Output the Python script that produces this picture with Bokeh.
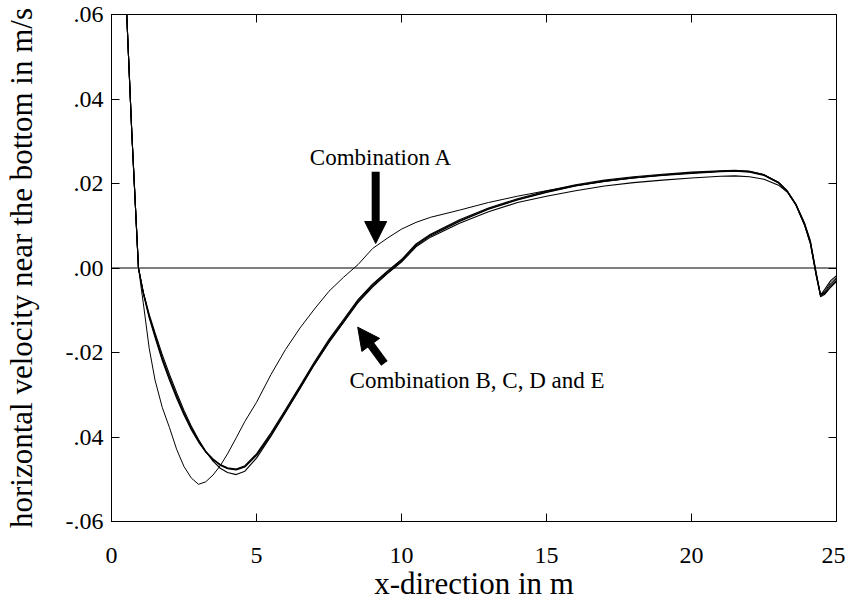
from bokeh.plotting import figure
from bokeh.models import (Range1d, FixedTicker, LinearAxis, Span, Label, Arrow,
                          NormalHead, CustomJSTickFormatter)
from bokeh.embed import file_html
from bokeh.resources import INLINE

# ---------------- data ----------------
x_m = [0.5, 0.7, 0.93, 1.1, 1.3, 1.5, 1.75, 2.0, 2.25, 2.5, 2.75, 3.0, 3.25, 3.5,
       3.75, 4.0, 4.3, 4.6, 5.0, 5.5, 6.0, 6.5, 7.0, 7.5, 8.0, 8.5, 9.0, 9.5,
       10.0, 10.5, 11.0, 12.0, 13.0, 14.0, 15.0, 16.0, 17.0, 18.0, 19.0, 20.0,
       21.0, 21.5, 22.0, 22.5, 23.0, 23.3, 23.6, 23.9, 24.1, 24.3, 24.45, 24.6,
       24.8, 25.0]

comb_A = [0.064, 0.032, 0.0, -0.0085, -0.0190, -0.0265, -0.0330, -0.0378, -0.0430,
          -0.0470, -0.0497, -0.0512, -0.0506, -0.0490, -0.0468, -0.0440, -0.0402,
          -0.0363, -0.0318, -0.0252, -0.0193, -0.0142, -0.0097, -0.0055, -0.0022,
          0.0008, 0.0046, 0.0070, 0.0092, 0.0108, 0.0120, 0.0137, 0.0155, 0.0170,
          0.0183, 0.0195, 0.0205, 0.0213, 0.0220, 0.0225, 0.0229, 0.0230, 0.0229,
          0.0221, 0.0203, 0.0183, 0.0152, 0.0107, 0.0065, -0.0010, -0.0064,
          -0.0055, -0.0035, -0.0022]

comb_B = [0.064, 0.032, 0.0, -0.0060, -0.0115, -0.0160, -0.0215, -0.0262, -0.0305,
          -0.0345, -0.0380, -0.0410, -0.0435, -0.0453, -0.0466, -0.0474, -0.0477,
          -0.0470, -0.0442, -0.0393, -0.0338, -0.0282, -0.0225, -0.0172, -0.0125,
          -0.0077, -0.0040, -0.0010, 0.0018, 0.0055, 0.0078, 0.0112, 0.0140, 0.0162,
          0.0180, 0.0195, 0.0206, 0.0214, 0.0220, 0.0225, 0.0229, 0.0230, 0.0228,
          0.0220, 0.0202, 0.0182, 0.0150, 0.0103, 0.0060, -0.0015, -0.0066,
          -0.0058, -0.0040, -0.0025]

comb_C = [0.064, 0.032, 0.0, -0.0062, -0.0118, -0.0164, -0.0219, -0.0266, -0.0309,
          -0.0348, -0.0383, -0.0412, -0.0436, -0.0454, -0.0467, -0.0475, -0.0478,
          -0.0471, -0.0444, -0.0396, -0.0341, -0.0285, -0.0228, -0.0175, -0.0128,
          -0.0080, -0.0043, -0.0013, 0.0016, 0.0052, 0.0076, 0.0110, 0.0139, 0.0161,
          0.0179, 0.0194, 0.0205, 0.0213, 0.0219, 0.0224, 0.0228, 0.0229, 0.0227,
          0.0219, 0.0201, 0.0181, 0.0149, 0.0101, 0.0057, -0.0017, -0.0064,
          -0.0050, -0.0030, -0.0018]

comb_D = [0.064, 0.032, 0.0, -0.0059, -0.0113, -0.0158, -0.0212, -0.0259, -0.0302,
          -0.0342, -0.0378, -0.0408, -0.0434, -0.0452, -0.0465, -0.0473, -0.0476,
          -0.0468, -0.0440, -0.0390, -0.0335, -0.0279, -0.0222, -0.0169, -0.0122,
          -0.0075, -0.0038, -0.0008, 0.0020, 0.0057, 0.0080, 0.0114, 0.0142, 0.0164,
          0.0182, 0.0197, 0.0208, 0.0216, 0.0222, 0.0227, 0.0230, 0.0231, 0.0229,
          0.0221, 0.0203, 0.0183, 0.0151, 0.0104, 0.0062, -0.0013, -0.0063,
          -0.0060, -0.0045, -0.0032]

comb_E = [0.064, 0.032, 0.0, -0.0058, -0.0110, -0.0153, -0.0205, -0.0252, -0.0296,
          -0.0337, -0.0374, -0.0406, -0.0434, -0.0457, -0.0474, -0.0484, -0.0489,
          -0.0481, -0.0450, -0.0398, -0.0342, -0.0285, -0.0228, -0.0176, -0.0129,
          -0.0082, -0.0045, -0.0014, 0.0014, 0.0050, 0.0073, 0.0106, 0.0133, 0.0155,
          0.0170, 0.0183, 0.0194, 0.0202, 0.0208, 0.0213, 0.0217, 0.0218, 0.0216,
          0.0210, 0.0196, 0.0180, 0.0149, 0.0102, 0.0058, -0.0018, -0.0068,
          -0.0062, -0.0045, -0.0030]

x_ticks = [0, 5, 10, 15, 20, 25]
y_ticks = [-0.06, -0.04, -0.02, 0.0, 0.02, 0.04, 0.06]
y_tick_labels = ["-.06", ".04", "-.02", ".00", ".02", ".04", ".06"]

label_A = "Combination A"
label_BE = "Combination B, C, D and E"

FONT = "Liberation Serif"

# ---------------- figure ----------------
p = figure(width=845, height=603, output_backend="svg", toolbar_location=None,
           x_range=Range1d(0, 25), y_range=Range1d(-0.06, 0.06),
           min_border_left=107, min_border_right=9, min_border_top=14,
           min_border_bottom=77)
p.background_fill_color = "white"
p.border_fill_color = "white"
p.outline_line_color = "black"
p.outline_line_width = 1
p.grid.visible = False

def style_axis(ax, show_labels):
    ax.axis_line_color = "black"
    ax.axis_line_width = 1
    ax.major_tick_in = 8
    ax.major_tick_out = 0
    ax.minor_tick_line_color = None
    ax.major_tick_line_color = "black"
    ax.major_tick_line_width = 1
    if show_labels:
        ax.major_label_text_font = FONT
        ax.major_label_text_font_size = "24px"
        ax.major_label_text_color = "black"
        ax.axis_label_text_font = FONT
        ax.axis_label_text_font_size = "31px"
        ax.axis_label_text_font_style = "normal"
        ax.axis_label_text_color = "black"
    else:
        ax.formatter = CustomJSTickFormatter(code="return ''")
        ax.major_label_standoff = 0

xa = p.xaxis[0]
xa.ticker = FixedTicker(ticks=x_ticks)
xa.axis_label = "x-direction in m"
style_axis(xa, True)
xa.major_label_standoff = 26
xa.axis_label_standoff = 0

ya = p.yaxis[0]
ya.ticker = FixedTicker(ticks=y_ticks)
ya.major_label_overrides = {t: s for t, s in zip(y_ticks, y_tick_labels)}
ya.axis_label = "horizontal velocity near the bottom in m/s"
style_axis(ya, True)
ya.major_label_standoff = 8
ya.axis_label_standoff = 24

top = LinearAxis(ticker=FixedTicker(ticks=x_ticks))
style_axis(top, False)
p.add_layout(top, "above")
right = LinearAxis(ticker=FixedTicker(ticks=y_ticks))
style_axis(right, False)
p.add_layout(right, "right")

# zero line
p.add_layout(Span(location=0, dimension="width", line_color="black", line_width=1))

# curves
for ys, w in [(comb_B, 1.1), (comb_C, 1.1), (comb_D, 1.1), (comb_E, 1.1), (comb_A, 1.0)]:
    p.line(x_m, ys, line_color="black", line_width=w)

# annotations
p.add_layout(Label(x=6.84, y=0.0261, text=label_A, text_font=FONT,
                   text_font_size="23px", text_baseline="middle", text_align="left",
                   text_color="black"))
p.add_layout(Arrow(x_start=9.11, y_start=0.0228, x_end=9.11, y_end=0.0058,
                   line_width=8, line_color="black",
                   end=NormalHead(size=22, fill_color="black", line_color="black")))

p.add_layout(Label(x=8.21, y=-0.0267, text=label_BE, text_font=FONT,
                   text_font_size="23px", text_baseline="middle", text_align="left",
                   text_color="black"))
p.add_layout(Arrow(x_start=9.41, y_start=-0.0226, x_end=8.49, y_end=-0.0140,
                   line_width=8, line_color="black",
                   end=NormalHead(size=22, fill_color="black", line_color="black")))

open("out.html", "w").write(file_html(p, INLINE))
